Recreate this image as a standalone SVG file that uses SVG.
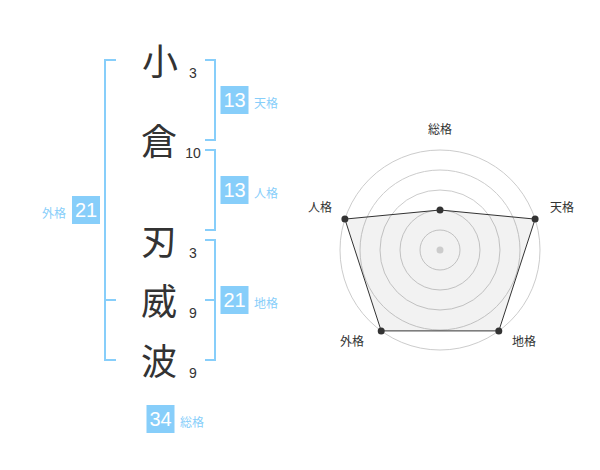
<svg xmlns="http://www.w3.org/2000/svg" width="600" height="470" viewBox="0 0 600 470">
<style>
.br{fill:none;stroke:#87CEFA;stroke-width:2}
.box{fill:#87CEFA}
.bn{font-family:"Liberation Sans",Arial,sans-serif;font-size:20px;fill:#fff;text-anchor:middle}
.lb{font-family:"Noto Sans CJK JP",sans-serif;font-size:12px;fill:#87CEFA}
.kj{font-family:"Noto Sans CJK JP",sans-serif;font-size:36px;fill:#333;text-anchor:middle}
.st{font-family:"Liberation Sans",Arial,sans-serif;font-size:14px;fill:#333;text-anchor:middle}
.ring{fill:none;stroke:#ccc;stroke-width:1}
.rl{font-family:"Noto Sans CJK JP",sans-serif;font-size:12px;fill:#333;text-anchor:middle}
.pt{fill:#333}
</style>
<rect width="600" height="470" fill="#fff"/>
<g id="connectors">
<path class="br" d="M116,60 H105 V360 H116 M105,300 H116"/>
<path class="br" d="M205,60 H215 V140 H205"/>
<path class="br" d="M205,150 H215 V230 H205"/>
<path class="br" d="M205,240 H215 V360 H205 M205,300 H215"/>
</g>
<g id="chars">
<text class="kj" x="160" y="75">小</text>
<text class="kj" x="159" y="155">倉</text>
<text class="kj" x="159" y="255">刃</text>
<text class="kj" x="159" y="315">威</text>
<text class="kj" x="159" y="375">波</text>
<text class="st" x="193" y="78">3</text>
<text class="st" x="193" y="158">10</text>
<text class="st" x="193" y="258">3</text>
<text class="st" x="193" y="318">9</text>
<text class="st" x="193" y="378">9</text>
</g>
<g id="tenkaku">
<rect class="box" x="220.5" y="86" width="28" height="28"/>
<text class="bn" x="234.5" y="107">13</text>
<text class="lb" x="254" y="108">天格</text>
</g>
<g id="jinkaku">
<rect class="box" x="220.5" y="176" width="28" height="28"/>
<text class="bn" x="234.5" y="197">13</text>
<text class="lb" x="254" y="198">人格</text>
</g>
<g id="chikaku">
<rect class="box" x="220.5" y="286" width="28" height="28"/>
<text class="bn" x="234.5" y="307">21</text>
<text class="lb" x="254" y="308">地格</text>
</g>
<g id="gaikaku">
<rect class="box" x="72" y="196" width="28" height="28"/>
<text class="bn" x="86" y="217">21</text>
<text class="lb" x="66" y="218" text-anchor="end">外格</text>
</g>
<g id="soukaku">
<rect class="box" x="146.5" y="405" width="28" height="28"/>
<text class="bn" x="160.5" y="426">34</text>
<text class="lb" x="180" y="427">総格</text>
</g>
<g id="radar">
<circle class="ring" cx="440" cy="250" r="20"/>
<circle class="ring" cx="440" cy="250" r="40"/>
<circle class="ring" cx="440" cy="250" r="60"/>
<circle class="ring" cx="440" cy="250" r="80"/>
<circle class="ring" cx="440" cy="250" r="100"/>
<polygon points="440,210 535.1,219.1 498.8,330.9 381.2,330.9 344.9,219.1" fill="rgba(0,0,0,0.05)" stroke="#333" stroke-width="1"/>
<circle cx="440" cy="250" r="3.5" fill="#ccc"/>
<circle class="pt" cx="440" cy="210" r="3.5"/>
<circle class="pt" cx="535.1" cy="219.1" r="3.5"/>
<circle class="pt" cx="498.8" cy="330.9" r="3.5"/>
<circle class="pt" cx="381.2" cy="330.9" r="3.5"/>
<circle class="pt" cx="344.9" cy="219.1" r="3.5"/>
<text class="rl" x="440" y="134">総格</text>
<text class="rl" x="562" y="212">天格</text>
<text class="rl" x="320" y="212">人格</text>
<text class="rl" x="352" y="346">外格</text>
<text class="rl" x="524" y="346">地格</text>
</g>
</svg>
